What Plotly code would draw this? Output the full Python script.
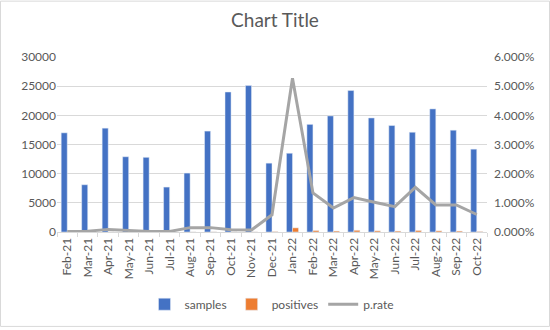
import plotly.graph_objects as go

months = ["Feb-21","Mar-21","Apr-21","May-21","Jun-21","Jul-21","Aug-21","Sep-21","Oct-21","Nov-21",
          "Dec-21","Jan-22","Feb-22","Mar-22","Apr-22","May-22","Jun-22","Jul-22","Aug-22","Sep-22","Oct-22"]
samples = [17000, 8100, 17800, 12900, 12800, 7700, 10100, 17300, 24000, 25100,
           11800, 13500, 18450, 19900, 24250, 19550, 18250, 17100, 21100, 17450, 14200]
positives = [3, 2, 16, 6, 3, 2, 15, 26, 19, 18,
             70, 710, 245, 165, 290, 200, 160, 260, 195, 160, 85]
p_rate = [0.0002, 0.0003, 0.0009, 0.0005, 0.0002, 0.0002, 0.0015, 0.0015, 0.0008, 0.0007,
          0.0059, 0.0527, 0.0134, 0.0082, 0.0118, 0.0102, 0.0087, 0.0153, 0.0093, 0.0093, 0.0060]

GRAY = "#595959"
fig = go.Figure()
fig.add_bar(x=months, y=samples, name="samples", marker_color="#4472c4")
fig.add_bar(x=months, y=positives, name="positives", marker_color="#ed7d31")
fig.add_scatter(x=months, y=p_rate, name="p.rate", yaxis="y2", mode="lines",
                line=dict(color="#a5a5a5", width=3))

W, H = 430, 177
L, T, B = 57, 57, 96
fig.update_layout(
    width=550, height=330,
    margin=dict(l=L, r=550 - L - W, t=T, b=B),
    paper_bgcolor="white", plot_bgcolor="white",
    font=dict(family="Lato, Open Sans, sans-serif", size=12, color=GRAY),
    title=dict(text="Chart Title", x=0.5, xanchor="center", y=1 - 20 / 330, yanchor="middle",
               font=dict(size=19, color=GRAY)),
    barmode="group", bargap=0.41, bargroupgap=0,
    xaxis=dict(type="category", tickangle=-90, showline=True, linecolor="#d9d9d9",
               ticks="outside", tickson="boundaries", ticklen=4, tickcolor="#d9d9d9",
               showgrid=False, tickfont=dict(size=12, color=GRAY)),
    yaxis=dict(range=[0, 30000], dtick=5000, tickformat="d", showgrid=True, gridcolor="#d9d9d9",
               zeroline=False, showline=False, ticks="", tickfont=dict(size=12, color=GRAY)),
    yaxis2=dict(overlaying="y", side="right", range=[0, 0.06], dtick=0.01, tickformat=".3%",
                showgrid=False, zeroline=False, showline=False, ticks="", ticklabelstandoff=6,
                tickfont=dict(size=12, color=GRAY)),
    legend=dict(orientation="h", x=0.5, xanchor="center", y=(-(307 - (T + H))) / H,
                yanchor="middle", font=dict(size=12, color=GRAY), traceorder="normal",
                itemwidth=30),
    showlegend=True,
    shapes=[dict(type="rect", xref="paper", yref="paper",
                 x0=-(L - 0.5) / W, x1=(550 - L - 0.5) / W,
                 y0=-(B - 0.5) / H, y1=1 + (T - 0.5) / H,
                 line=dict(color="#d9d9d9", width=1), layer="below")],
)
fig.write_html("out.html")
